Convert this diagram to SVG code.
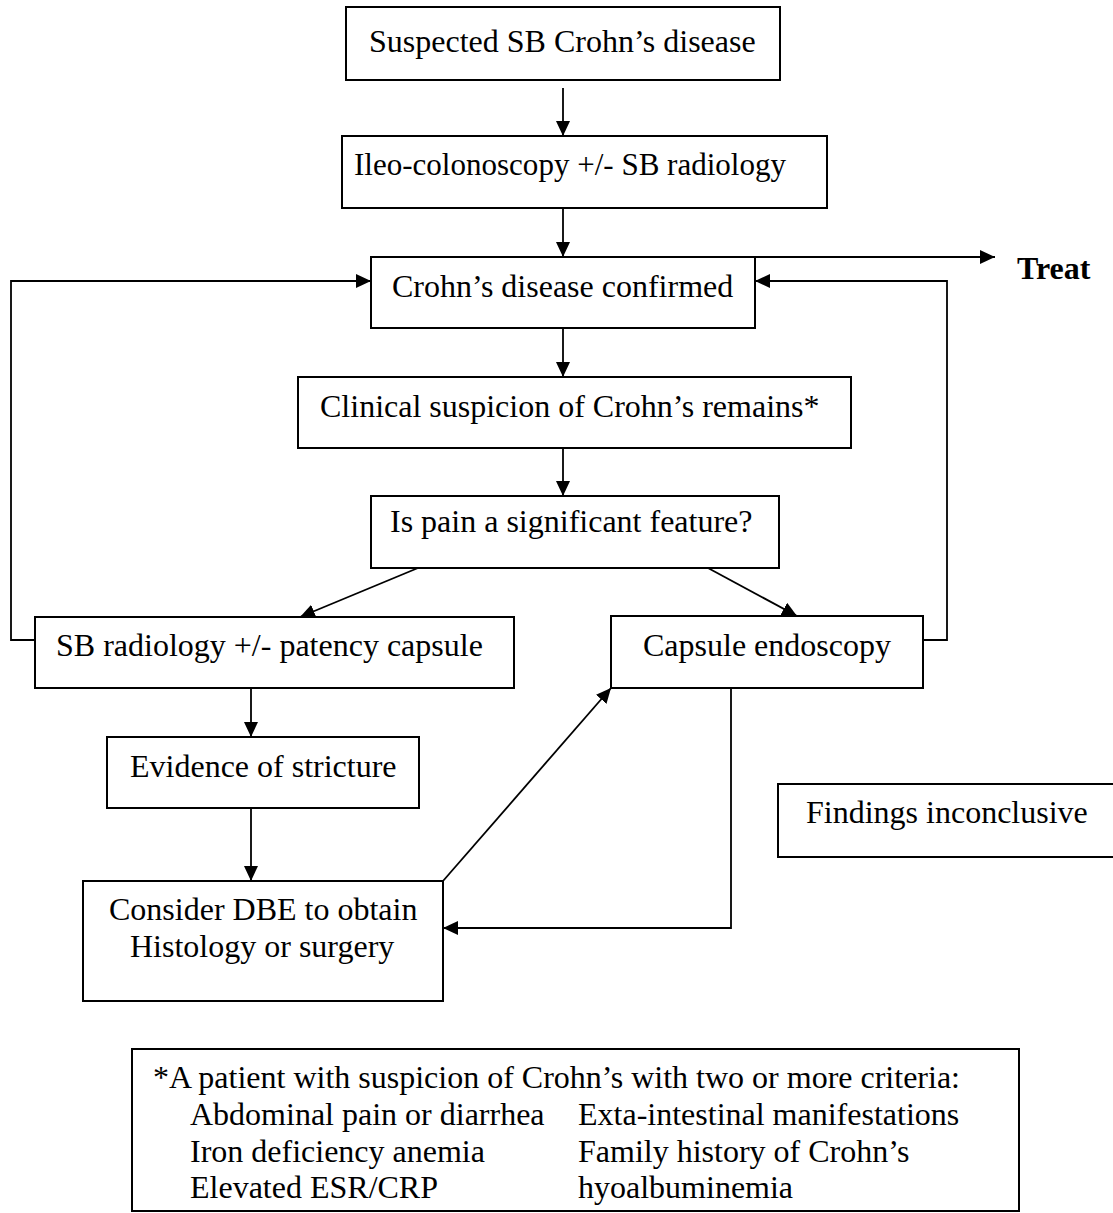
<svg xmlns="http://www.w3.org/2000/svg" width="1113" height="1213" viewBox="0 0 1113 1213">
<style>
.box{fill:#fff;stroke:#000;stroke-width:2}
.t{font-family:"Liberation Serif","Times New Roman",serif;font-size:32px;fill:#000}
.b{font-weight:bold}
.c{fill:none;stroke:#000;stroke-width:1.8}
</style>
<defs>
<marker id="ah" markerUnits="userSpaceOnUse" markerWidth="15" markerHeight="14" refX="15" refY="7" orient="auto">
<path d="M0,0 L15,7 L0,14 z" fill="#000"/>
</marker>
</defs>
<rect width="1113" height="1213" fill="#fff"/>
<g id="connectors">
<line class="c" x1="563" y1="88" x2="563" y2="136" marker-end="url(#ah)"/>
<line class="c" x1="563" y1="208" x2="563" y2="257" marker-end="url(#ah)"/>
<line class="c" x1="755" y1="257" x2="995" y2="257" marker-end="url(#ah)"/>
<line class="c" x1="563" y1="328" x2="563" y2="377" marker-end="url(#ah)"/>
<line class="c" x1="563" y1="448" x2="563" y2="496" marker-end="url(#ah)"/>
<line class="c" x1="418" y1="568" x2="300" y2="617" marker-end="url(#ah)"/>
<line class="c" x1="708" y1="568" x2="797" y2="616" marker-end="url(#ah)"/>
<polyline class="c" points="35,640 11,640 11,281 371,281" marker-end="url(#ah)"/>
<polyline class="c" points="923,640 947,640 947,281 755,281" marker-end="url(#ah)"/>
<line class="c" x1="251" y1="688" x2="251" y2="737" marker-end="url(#ah)"/>
<line class="c" x1="251" y1="808" x2="251" y2="881" marker-end="url(#ah)"/>
<line class="c" x1="443" y1="881" x2="611" y2="688" marker-end="url(#ah)"/>
<polyline class="c" points="731,688 731,928 443,928" marker-end="url(#ah)"/>
</g>
<g id="n1"><rect class="box" x="346" y="7" width="434" height="73"/><text class="t" x="369" y="52">Suspected SB Crohn’s disease</text></g>
<g id="n2"><rect class="box" x="342" y="136" width="485" height="72"/><text class="t" x="354" y="175" textLength="432" lengthAdjust="spacingAndGlyphs">Ileo-colonoscopy +/- SB radiology</text></g>
<g id="n3"><rect class="box" x="371" y="257" width="384" height="71"/><text class="t" x="392" y="297">Crohn’s disease confirmed</text></g>
<g id="treat"><text class="t b" x="1017" y="279">Treat</text></g>
<g id="n4"><rect class="box" x="298" y="377" width="553" height="71"/><text class="t" x="320" y="417">Clinical suspicion of Crohn’s remains*</text></g>
<g id="n5"><rect class="box" x="371" y="496" width="408" height="72"/><text class="t" x="390" y="532">Is pain a significant feature?</text></g>
<g id="n6"><rect class="box" x="35" y="617" width="479" height="71"/><text class="t" x="56" y="656">SB radiology +/- patency capsule</text></g>
<g id="n7"><rect class="box" x="611" y="616" width="312" height="72"/><text class="t" x="643" y="656">Capsule endoscopy</text></g>
<g id="n8"><rect class="box" x="107" y="737" width="312" height="71"/><text class="t" x="130" y="777">Evidence of stricture</text></g>
<g id="n9"><rect class="box" x="83" y="881" width="360" height="120"/><text class="t" x="109" y="920">Consider DBE to obtain</text><text class="t" x="130" y="957">Histology or surgery</text></g>
<g id="n10"><rect class="box" x="778" y="784" width="337" height="73"/><text class="t" x="806" y="823">Findings inconclusive</text></g>
<g id="note"><rect class="box" x="132" y="1049" width="887" height="162"/>
<text class="t" x="153" y="1088">*A patient with suspicion of Crohn’s with two or more criteria:</text>
<text class="t" x="190" y="1125">Abdominal pain or diarrhea</text><text class="t" x="578" y="1125">Exta-intestinal manifestations</text>
<text class="t" x="190" y="1162">Iron deficiency anemia</text><text class="t" x="578" y="1162">Family history of Crohn’s</text>
<text class="t" x="190" y="1198">Elevated ESR/CRP</text><text class="t" x="578" y="1198">hyoalbuminemia</text>
</g>
</svg>
